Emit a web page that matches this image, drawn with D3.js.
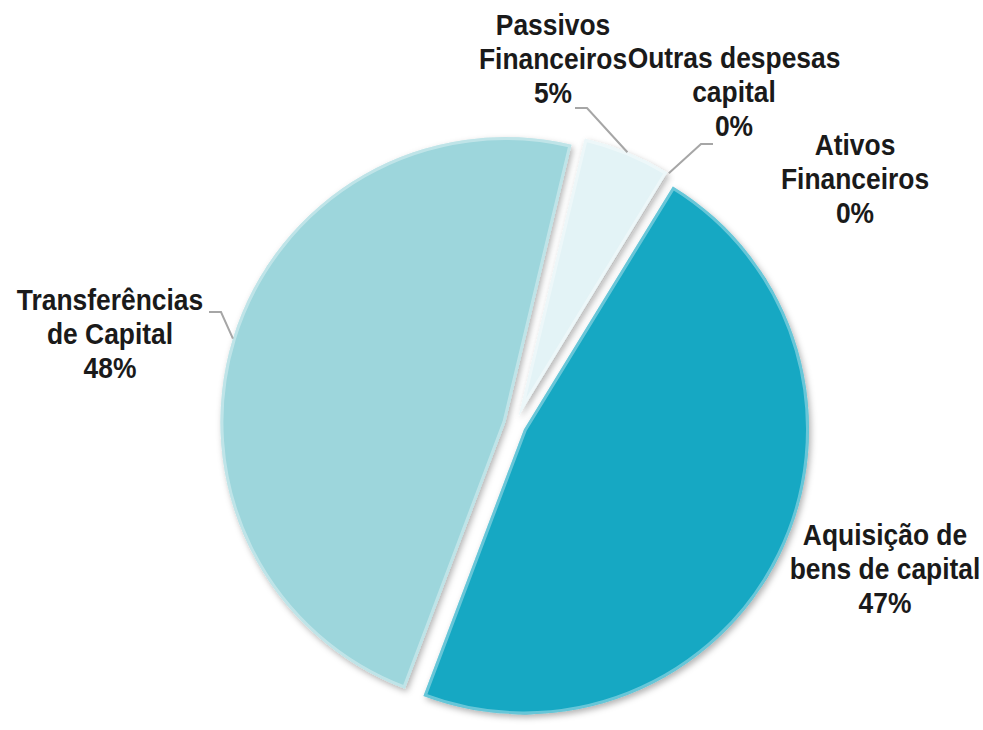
<!DOCTYPE html>
<html>
<head>
<meta charset="utf-8">
<script src="https://cdn.jsdelivr.net/npm/d3@7"></script>
<style>
  body { margin: 0; background: #fff; }
  text { font-family: "Liberation Sans", Arial, sans-serif; font-weight: bold; fill: #1a1a1a; }
</style>
</head>
<body>
<div class="chart"></div>
<script>
// dados (percentagens)
const categories = ["Aquisição de bens de capital", "Transferências de Capital", "Passivos Financeiros", "Outras despesas capital", "Ativos Financeiros"];
const values = [47, 48, 5, 0.02, 0.01];
const colors = ["#13a8c3", "#9dd6dc", "#e3f3f6", "#d0d0d0", "#bcbcbc"];
const labelLines = [["Aquisição de", "bens de capital"], ["Transferências", "de Capital"], ["Passivos", "Financeiros"], ["Outras despesas", "capital"], ["Ativos", "Financeiros"]];

// posição das etiquetas (centro x, 1ª linha de base) e ponto de ligação da linha guia
const labelLayout = [
  {x: 885, y: 545, leader: null},
  {x: 110, y: 310, leader: [209, 312]},
  {x: 553, y: 35,  leader: [575, 108]},
  {x: 734, y: 68,  leader: [713, 144]},
  {x: 855, y: 155, leader: null}
];

const width = 983, height = 730;
const cx = 515, cy = 425, radius = 285, explode = 10;
const lineH = 34;
const narrow = 0.88;   // pas de police "narrow" : on compresse
const startAngle = 31.5 * Math.PI / 180;

const total = d3.sum(values);
const pct = d3.format(".0%");

const svg = d3.select(".chart").append("svg")
  .attr("width", width)
  .attr("height", height);

const defs = svg.append("defs");
const shadow = defs.append("filter").attr("id", "shadow")
  .attr("x", "-20%").attr("y", "-20%").attr("width", "140%").attr("height", "140%");
shadow.append("feDropShadow")
  .attr("dx", 2).attr("dy", 3).attr("stdDeviation", 3)
  .attr("flood-color", "#000").attr("flood-opacity", 0.3);

const pie = d3.pie()
  .sort(null)
  .value(d => d)
  .startAngle(startAngle)
  .endAngle(startAngle + 2 * Math.PI);

const arc = d3.arc().innerRadius(0).outerRadius(radius);

const arcs = pie(values);

function offset(d) {
  const a = (d.startAngle + d.endAngle) / 2;
  return [Math.sin(a) * explode, -Math.cos(a) * explode];
}

const g = svg.append("g").attr("transform", "translate(" + cx + "," + cy + ")");

const slices = g.selectAll(".slice")
  .data(arcs)
  .enter().append("g")
  .attr("class", "slice")
  .attr("transform", d => "translate(" + offset(d) + ")");

slices.each(function(d, i) {
  defs.append("clipPath").attr("id", "clip" + i)
    .append("path").attr("d", arc(d));
});

slices.append("path")
  .attr("d", arc)
  .attr("fill", (d, i) => colors[i])
  .attr("filter", "url(#shadow)");

// biseau : liseré clair à l'intérieur
slices.append("path")
  .attr("d", arc)
  .attr("fill", "none")
  .attr("stroke", "#ffffff")
  .attr("stroke-opacity", 0.35)
  .attr("stroke-width", 6)
  .attr("clip-path", (d, i) => "url(#clip" + i + ")");

// linhas guia
arcs.forEach((d, i) => {
  const lay = labelLayout[i];
  if (!lay.leader) return;
  const a = (d.startAngle + d.endAngle) / 2;
  const off = offset(d);
  const px = cx + off[0] + Math.sin(a) * radius;
  const py = cy + off[1] - Math.cos(a) * radius;
  const dir = px > lay.leader[0] ? 1 : -1;
  const elbow = [lay.leader[0] + dir * 12, lay.leader[1]];
  svg.append("polyline")
    .attr("points", [[px, py], elbow, lay.leader].map(p => p.join(",")).join(" "))
    .attr("fill", "none")
    .attr("stroke", "#a6a6a6")
    .attr("stroke-width", 2);
});

// etiquetas
arcs.forEach((d, i) => {
  const lay = labelLayout[i];
  const lines = labelLines[i].concat([pct(values[i] / total)]);
  const t = svg.append("text")
    .attr("transform", "translate(" + lay.x + "," + lay.y + ") scale(" + narrow + ",1)")
    .attr("text-anchor", "middle")
    .style("font-size", "30px");
  lines.forEach((l, k) => {
    t.append("tspan")
      .attr("x", 0)
      .attr("dy", k == 0 ? 0 : lineH)
      .text(l);
  });
});
</script>
</body>
</html>
